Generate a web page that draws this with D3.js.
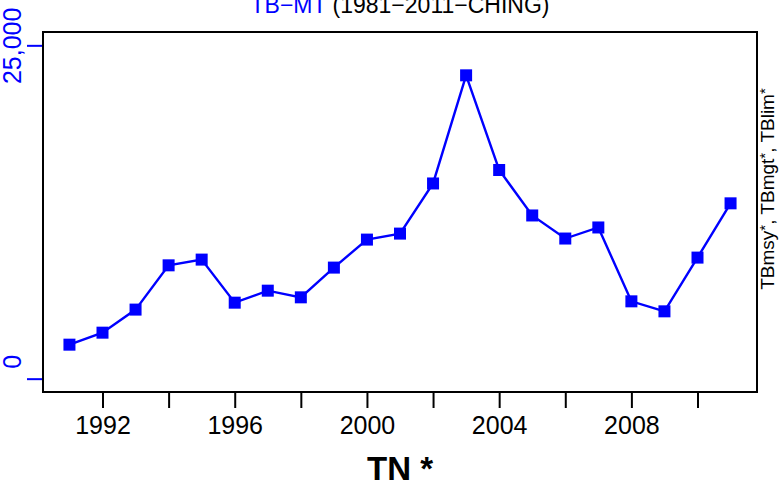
<!DOCTYPE html>
<html>
<head>
<meta charset="utf-8">
<script src="https://cdn.jsdelivr.net/npm/d3@7"></script>
<style>
  body { margin: 0; background: #fff; }
  svg { display: block; font-family: "Liberation Sans", Arial, sans-serif; }
</style>
</head>
<body>
<div class="chart"></div>
<script>
// Data
var years = [1991, 1992, 1993, 1994, 1995, 1996, 1997, 1998, 1999, 2000, 2001,
  2002, 2003, 2004, 2005, 2006, 2007, 2008, 2009, 2010, 2011];
var tbValues = [2550, 3450, 5180, 8500, 8930, 5700, 6600, 6100, 8330, 10430, 10880,
  14640, 22750, 15650, 12240, 10510, 11340, 5800, 5050, 9080, 13150];
var xTicks = [1992, 1994, 1996, 1998, 2000, 2002, 2004, 2006, 2008, 2010];
var xLabels = [1992, 1996, 2000, 2004, 2008];
var yTicks = [0, 25000];

var svgWidth = 783;
var svgHeight = 489;

// Plot box edges
var box = { left: 43, right: 757, top: 32, bottom: 392 };

var svg = d3.select(".chart")
  .append("svg")
  .attr("width", svgWidth)
  .attr("height", svgHeight);

// Scales (R style 4% padding on each side)
var xScale = d3.scaleLinear()
  .domain([1990.2, 2011.8])
  .range([box.left, box.right]);

var yScale = d3.scaleLinear()
  .domain([-1000, 26000])
  .range([box.bottom, box.top]);

// Title
var title = svg.append("text")
  .attr("x", (box.left + box.right) / 2)
  .attr("y", 13)
  .attr("text-anchor", "middle")
  .attr("font-size", "23px");
title.append("tspan").attr("fill", "#0000ff").text("TB\u2212MT");
title.append("tspan").attr("fill", "#000").text(" (1981\u22122011\u2212CHING)");

// X axis
var bottomAxis = d3.axisBottom(xScale)
  .tickValues(xTicks)
  .tickSize(16)
  .tickSizeOuter(0)
  .tickFormat(d => xLabels.indexOf(d) >= 0 ? String(d) : "");

var xAxis = svg.append("g")
  .attr("transform", `translate(0, ${box.bottom})`)
  .call(bottomAxis);
xAxis.select(".domain").remove();
xAxis.selectAll("line").attr("stroke", "#000").attr("stroke-width", 2);
xAxis.selectAll("text")
  .attr("y", 42)
  .attr("dy", 0)
  .attr("fill", "#000")
  .attr("font-size", "25px")
  .attr("font-family", "Liberation Sans, Arial, sans-serif");

// Left axis (blue) - labels padded to a common width like R's format()
var commaFmt = d3.format(",");
var labelWidth = d3.max(yTicks, d => commaFmt(d).length);
var leftAxis = d3.axisLeft(yScale)
  .tickValues(yTicks)
  .tickSize(16)
  .tickSizeOuter(0)
  .tickFormat(d => commaFmt(d).padStart(labelWidth, " "));

var yAxis = svg.append("g")
  .attr("transform", `translate(${box.left}, 0)`)
  .call(leftAxis);
yAxis.select(".domain").remove();
yAxis.append("line")
  .attr("x1", 0).attr("x2", 0)
  .attr("y1", yScale(yTicks[0]))
  .attr("y2", yScale(yTicks[yTicks.length - 1]))
  .attr("stroke", "#0000ff")
  .attr("stroke-width", 2);
yAxis.selectAll(".tick line").attr("stroke", "#0000ff").attr("stroke-width", 2);
yAxis.selectAll("text")
  .attr("x", 0)
  .attr("dy", 0)
  .attr("transform", "translate(-22, 0) rotate(-90)")
  .attr("text-anchor", "middle")
  .style("white-space", "pre")
  .attr("fill", "#0000ff")
  .attr("font-size", "25px")
  .attr("font-family", "Liberation Sans, Arial, sans-serif");

// Plot box
svg.append("rect")
  .attr("x", box.left)
  .attr("y", box.top)
  .attr("width", box.right - box.left)
  .attr("height", box.bottom - box.top)
  .attr("fill", "none")
  .attr("stroke", "#000")
  .attr("stroke-width", 2);

// Line + square markers
var series = years.map((d, i) => ({ year: d, value: tbValues[i] }));

var line = d3.line()
  .x(d => xScale(d.year))
  .y(d => yScale(d.value));

svg.append("path")
  .datum(series)
  .attr("d", line)
  .attr("fill", "none")
  .attr("stroke", "#0000ff")
  .attr("stroke-width", 2.4);

svg.selectAll(".pt")
  .data(series)
  .enter()
  .append("rect")
  .attr("class", "pt")
  .attr("x", d => xScale(d.year) - 6)
  .attr("y", d => yScale(d.value) - 6)
  .attr("width", 12)
  .attr("height", 12)
  .attr("fill", "#0000ff");

// X axis label
svg.append("text")
  .attr("x", (box.left + box.right) / 2)
  .attr("y", 480)
  .attr("text-anchor", "middle")
  .attr("font-size", "33px")
  .attr("font-weight", "bold")
  .text("TN *");

// Right label
var rightLabel = svg.append("text")
  .attr("transform", "translate(774, 189) rotate(-90)")
  .attr("text-anchor", "middle")
  .attr("font-size", "19px");
[["TB", "msy"], ["TB", "mgt"], ["TB", "lim"]].forEach(function(p, i) {
  rightLabel.append("tspan").text(p[0] + p[1]);
  rightLabel.append("tspan").attr("dy", -4).attr("font-size", "15px").text("*");
  rightLabel.append("tspan").attr("dy", 4).text(i < 2 ? ", " : "");
});
</script>
</body>
</html>
